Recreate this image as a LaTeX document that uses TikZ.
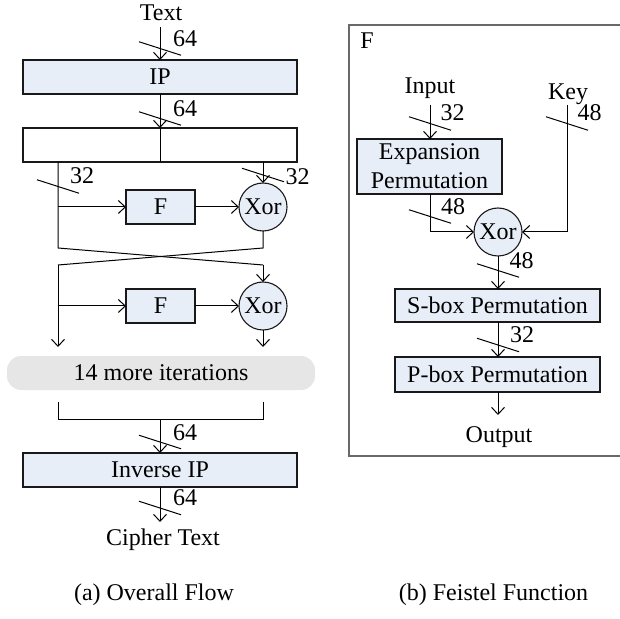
\documentclass[tikz,border=0pt]{standalone}
\usepackage{fontspec}
\setmainfont{Liberation Serif}
\usetikzlibrary{arrows.meta,calc}

\definecolor{boxfill}{RGB}{232,238,248}
\definecolor{iterfill}{RGB}{230,230,230}
\definecolor{framegray}{RGB}{105,105,105}

\tikzset{
  wire/.style={line width=0.5pt, draw=black},
  flow/.style={wire, -{Straight Barb[length=3.5pt,width=6.5pt,line width=0.5pt]}},
  block/.style={draw=black!90, line width=0.55pt, fill=boxfill, inner sep=0pt, outer sep=0pt},
  xorgate/.style={circle, draw=black!90, line width=0.55pt, fill=boxfill, inner sep=0pt, outer sep=0pt, minimum size=24pt},
  lbl/.style={inner sep=0pt, anchor=base},
}
% bus-width mark: a short slash across a wire and its bit count
\newcommand\buswidth[3]{%
  \draw[wire] ([shift={(-21,-6.75)}]#1) -- ([shift={(21,6.75)}]#1);
  \node[lbl] at (#2) {#3};}

\begin{document}
\begin{tikzpicture}[x=0.5pt, y=-0.5pt, font=\fontsize{12}{14.5}\selectfont]
\useasboundingbox (0,0) rectangle (619,619);

%% ---------------- (a) overall flow ----------------
\node[lbl] (txt) at (161,21) {Text};
\coordinate (tin) at (160,27);
\node[block, minimum width=137pt, minimum height=17pt] (ip) at (160,77) {IP};
\draw[flow] (tin) -- (tin |- ip.north);
\buswidth{160,48.5}{185,47}{64}

\node[block, fill=white, minimum width=137pt, minimum height=17pt] (split) at (160,145) {};
\draw[flow] (ip.south) -- (split.north);
\buswidth{160,118.5}{185,117}{64}
\draw[wire] (split.north) -- (split.south);

\coordinate (l0) at (58,162);
\coordinate (r0) at (263,162);
\node[block, minimum width=34.5pt, minimum height=17pt] (f1) at (160.5,207) {F};
\node[xorgate] (x1) at (263,207) {Xor};
\draw[flow] (r0) -- (x1.north);
\buswidth{58,186.5}{82,184}{32}
\buswidth{263,175}{297.5,185}{32}
\draw[flow] (l0 |- f1) -- (f1.west);
\draw[flow] (f1) -- (x1);

% swap of the two halves
\coordinate (la) at (58,248);
\coordinate (ra) at (263,248);
\coordinate (lb) at (58,265);
\coordinate (rb) at (263,265);
\draw[wire] (l0) -- (la) -- (rb);
\draw[wire] (x1.south) -- (ra) -- (lb);

\node[block, minimum width=34.5pt, minimum height=17pt] (f2) at (160.5,306) {F};
\node[xorgate] (x2) at (263,306) {Xor};
\coordinate (lend) at (58,347);
\coordinate (rend) at (263,347);
\draw[flow] (rb) -- (x2.north);
\draw[flow] (lb) -- (lend);
\draw[flow] (lb |- f2) -- (f2.west);
\draw[flow] (f2) -- (x2);
\draw[flow] (x2.south) -- (rend);

\node[fill=iterfill, rounded corners=7pt, inner sep=0pt, minimum width=154pt, minimum height=17pt] (iter) at (161,373) {14 more iterations};

% join of the halves
\coordinate (lc) at (58,402);
\coordinate (rc) at (263,402);
\coordinate (ld) at (58,419);
\coordinate (rd) at (263,419);
\draw[wire] (lc) -- (ld) -- (rd) -- (rc);
\coordinate (mid) at (160,419);

\node[block, minimum width=137pt, minimum height=17pt] (iip) at (160,470) {Inverse IP};
\draw[flow] (mid) -- (mid |- iip.north);
\buswidth{160,442}{185,440}{64}
\coordinate (cout) at (160,522);
\draw[flow] (iip.south) -- (cout);
\buswidth{160,508}{185,505}{64}
\node[lbl] (ct) at (163,545) {Cipher Text};

\node[lbl] (capa) at (154,600) {(a) Overall Flow};

%% ---------------- (b) Feistel function ----------------
\draw[framegray, line width=0.65pt] (622,25) -- (349,25) -- (349,456) -- (622,456);
\node[lbl] (ftitle) at (367,49) {F};

\node[lbl] (inp) at (430,94) {Input};
\coordinate (iin) at (430,105);
\node[block, minimum width=72.5pt, minimum height=27.5pt, align=center] (exp) at (429.5,166.5) {Expansion\\Permutation};
\draw[flow] (iin) -- (iin |- exp.north);
\buswidth{430,123.5}{452.5,121}{32}

\node[xorgate] (fx) at (498,232) {Xor};
\coordinate (ecorner) at (430,232);
\draw[flow] (exp.south -| iin) -- (ecorner) -- (fx.west);
\buswidth{430,216.5}{453,215}{48}

\node[lbl] (key) at (568,100) {Key};
\coordinate (kin) at (567,105);
\coordinate (kcorner) at (567,232);
\draw[flow] (kin) -- (kcorner) -- (fx.east);
\buswidth{567,123.5}{589.5,121}{48}

\node[block, minimum width=102.5pt, minimum height=16.5pt] (sbox) at (497.5,305.5) {S-box Permutation};
\node[block, minimum width=102.5pt, minimum height=17.5pt] (pbox) at (497.5,374.5) {P-box Permutation};
\draw[flow] (fx.south) -- (fx.south |- sbox.north);
\buswidth{498,270.5}{521.5,269}{48}
\draw[flow] (sbox.south -| fx) -- (pbox.north -| fx);
\buswidth{498,345}{522,343}{32}
\coordinate (pout) at (498,415);
\draw[flow] (pbox.south -| fx) -- (pout);
\node[lbl] (outp) at (499,442) {Output};

\node[lbl] (capb) at (493.5,600) {(b) Feistel Function};
\end{tikzpicture}
\end{document}
